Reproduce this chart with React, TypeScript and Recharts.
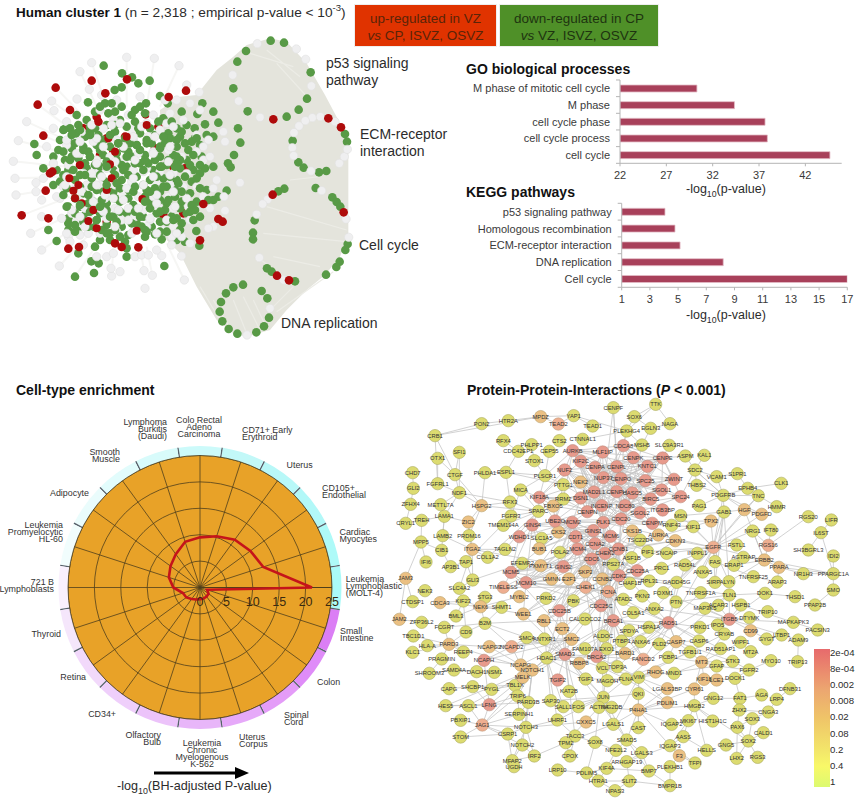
import React from "react";
import {
  AreaChart, Area, LineChart, Line, ScatterChart, Scatter, XAxis, YAxis, BarChart, Bar,
  RadarChart, Radar, PolarGrid, PolarAngleAxis, PolarRadiusAxis, PieChart, Pie, Cell,
} from "recharts";

const FONT = "'Liberation Sans', Arial, sans-serif";

/* ---------- GO / KEGG bars ---------- */
const goTerms = ["M phase of mitotic cell cycle", "M phase", "cell cycle phase", "cell cycle process", "cell cycle"];
const goValues = [30.3, 34.35, 37.65, 37.9, 44.65];
const goTicks = [22, 27, 32, 37, 42];
const keggTerms = ["p53 signaling pathway", "Homologous recombination", "ECM-receptor interaction", "DNA replication", "Cell cycle"];
const keggValues = [4.07, 4.78, 5.14, 8.2, 17];
const keggTicks = [1, 3, 5, 7, 9, 11, 13, 15, 17];

/* ---------- Cell-type radar (counter-clockwise from the MOLT-4 spoke) ---------- */
const cellTypes = [
  "Leukemia Lymphoblastic (MOLT-4)", "Cardiac Myocytes", "CD105+ Endothelial", "Uterus", "CD71+ Early Erythroid",
  "Colo Rectal Adeno Carcinoma", "Lymphoma Burkitis (Daudi)", "Smooth Muscle", "Adipocyte", "Leukemia Promyelocytic HL-60",
  "721 B Lymphoblasts", "Thyroid", "Retina", "CD34+", "Olfactory Bulb",
  "Leukemia Chronic Myelogenous K-562", "Uterus Corpus", "Spinal Cord", "Colon", "Small Intestine",
];
const cellEnrichment = [21.2, 12.6, 11.8, 11.2, 10.2, 9.5, 9.1, 7.8, 6.9, 6.2, 5.05, 3.4, 3.2, 2.7, 2.4, 2.2, 2.2, 2.1, 2.0, 1.4];
const radiusTicks = [0, 5, 10, 15, 20, 25];
const bandColors = [
  "#aafaf8", "#aefaf8", "#b2f8f8", "#b8f8f8", "#c2f8f8", "#ccfafa", "#d8fbfb", "#e2fcfc", "#eafcfc", "#f1fdfd",
  "#f9f0fd", "#f5e6fb", "#f2d9fb", "#efcffb", "#ecc3fa", "#e8b6f9", "#e6a9f9", "#e49cf8", "#df8cf8", "#db7ef5",
];

/* label layout for the radar (lines, x, first-line y, anchor) */
const cellLabelLayout: [string[], number, number, string][] = [
  [["Leukemia", "Lymphoblastic", "(MOLT-4)"], 345.7, 202, "start"],
  [["Cardiac", "Myocytes"], 339.5, 155, "start"],
  [["CD105+", "Endothelial"], 322, 111, "start"],
  [["Uterus"], 286.5, 88, "start"],
  [["CD71+ Early", "Erythroid"], 242, 53, "start"],
  [["Colo Rectal", "Adeno", "Carcinoma"], 199, 43, "middle"],
  [["Lymphoma", "Burkitis", "(Daudi)"], 167, 45, "end"],
  [["Smooth", "Muscle"], 120, 75, "end"],
  [["Adipocyte"], 89, 116, "end"],
  [["Leukemia", "Promyelocytic", "HL-60"], 63, 148, "end"],
  [["721 B", "Lymphoblasts"], 54, 205, "end"],
  [["Thyroid"], 61, 257, "end"],
  [["Retina"], 86, 300, "end"],
  [["CD34+"], 116, 337, "end"],
  [["Olfactory", "Bulb"], 161, 358, "end"],
  [["Leukemia", "Chronic", "Myelogenous", "K-562"], 202, 366, "middle"],
  [["Uterus", "Corpus"], 239, 360, "start"],
  [["Spinal", "Cord"], 284, 338, "start"],
  [["Colon"], 317, 305, "start"],
  [["Small", "Intestine"], 340, 254, "start"],
];

/* ---------- Cluster network, in 3x picture units ---------- */
const fanX = [480, 540, 590, 650, 700, 740, 810, 860, 920, 975, 1020, 1045];
const fanTop = [330, 290, 285, 210, 170, 135, 115, 125, 190, 285, 370, 430];
const fanBottom = [700, 760, 860, 960, 1000, 1010, 990, 930, 870, 825, 770, 705];
const streaks: number[][] = [
  [870, 540, 960, 530], [800, 620, 1040, 690], [790, 700, 1040, 725], [880, 200, 750, 160], [900, 230, 800, 150],
  [930, 300, 830, 190], [880, 860, 820, 920], [1000, 815, 830, 935], [740, 1000, 700, 900], [800, 985, 760, 900],
  [660, 960, 600, 860], [820, 770, 960, 800], [770, 770, 850, 830], [700, 1000, 640, 900], [780, 990, 730, 890],
];
const rays: number[][] = [
  [380, 172, 380, 320], [463, 175, 440, 320], [537, 197, 480, 320], [275, 188, 320, 320], [240, 215, 300, 340],
  [155, 303, 260, 380], [80, 365, 220, 430], [55, 422, 200, 460], [40, 484, 200, 500], [45, 535, 200, 530],
  [48, 585, 200, 560], [65, 646, 210, 590], [92, 700, 220, 640], [125, 750, 240, 670], [178, 798, 270, 700],
  [225, 830, 300, 720], [335, 828, 340, 740], [432, 812, 420, 740], [457, 826, 440, 740], [553, 840, 500, 730],
  [167, 263, 270, 370], [113, 314, 230, 400], [130, 407, 230, 450],
];
const greenNodes: number[][] = [
  [812,122],[852,128],[738,153],[712,185],[932,217],[700,265],[921,296],[896,329],[860,350],[743,334],
  [1035,402],[1041,425],[878,422],[895,487],[911,503],[957,517],[979,513],
  [853,566],[835,574],[947,564],[997,592],[1010,606],[1021,620],[764,661],[759,698],[759,718],[1043,732],[1036,750],[1019,785],[1009,801],[978,824],[801,805],[815,815],[885,844],
  [729,854],[700,862],[678,880],[663,906],[659,935],[667,964],[686,987],[712,1001],[769,997],[792,979],[807,953],[802,895],[785,873],
  [607,310],[592,342],[640,335],[655,368],[615,373],[584,385],[714,385],[721,428],[702,465],[684,490],[692,502],[640,500],[620,405],[640,410],[585,415],
  [311,197],[366,220],[396,232],[449,242],[415,250],[365,262],[344,270],[264,307],[103,432],[110,465],[130,505],[145,690],[170,723],[235,760],[225,830],[282,819],[274,784],[296,790],[380,770],[493,798],[598,737],[589,693],
  [315,310],[285,335],[325,340],[365,320],[405,330],[438,310],[435,340],[480,288],[503,310],[545,335],[230,345],[235,375],[270,380],[320,375],[360,360],[405,365],[450,385],[490,355],[530,385],[560,375],
  [192,388],[215,415],[255,410],[295,405],[345,395],[375,415],[420,400],[465,405],[505,400],[540,410],[575,425],[180,420],[175,450],[215,445],[250,440],[290,435],[330,440],[370,445],[410,435],[455,430],[495,430],[530,440],[565,450],[600,435],
  [160,470],[195,480],[235,475],[270,470],[310,465],[350,480],[395,470],[435,465],[480,470],[520,465],[560,480],[605,470],[170,510],[205,510],[260,505],[300,500],[340,510],[380,500],[420,490],[460,510],[500,495],[540,505],[580,510],[615,505],
  [160,555],[180,545],[225,540],[275,535],[315,545],[365,540],[410,530],[450,540],[490,535],[530,540],[575,545],[600,520],[205,620],[250,580],[290,570],[340,575],[385,570],[440,570],[480,575],[525,570],[570,580],[620,570],[655,590],[680,572],
  [240,620],[280,605],[320,610],[360,605],[400,615],[450,605],[500,610],[545,605],[590,605],[205,655],[255,645],[300,640],[340,650],[380,640],[430,650],[470,640],[515,650],[560,640],[600,650],
  [205,690],[232,692],[280,680],[320,675],[365,680],[410,670],[455,680],[500,665],[545,670],[300,720],[330,700],[385,705],[435,710],[465,703],[485,718],[530,720],[555,725],[380,745],[285,740],
];
const whiteNodes: number[][] = [
  [772,131],[889,147],[917,178],[698,225],[934,258],[716,303],[780,352],
  [937,353],[961,350],[1005,365],[916,362],[897,378],[882,398],[877,443],[881,467],[933,513],[1018,490],[1033,470],[1042,448],
  [965,572],[803,598],[788,612],[770,643],[1038,657],[1046,712],[778,773],[851,840],[741,1005],[810,925],
  [380,172],[463,175],[537,197],[275,188],[240,215],[560,255],[598,277],[268,268],[231,297],[155,303],[162,332],[80,365],[55,422],[40,484],[45,535],[48,585],[108,548],[108,575],[125,650],[92,700],[125,750],[178,798],[335,828],[360,815],[432,812],[457,826],[553,840],[435,865],[333,805],[485,767],[545,768],[720,548],[675,632],[640,680],
  [300,330],[340,360],[385,345],[460,345],[510,340],[530,300],[570,310],[600,330],[200,365],[160,385],[245,395],[310,385],[395,390],[440,370],[500,370],[550,360],[230,420],[280,425],[350,420],[400,420],[445,410],[520,420],[590,405],[625,420],[670,395],[675,425],
  [200,435],[140,440],[160,490],[240,460],[290,480],[330,470],[375,475],[415,460],[460,455],[505,450],[545,470],[590,455],[610,440],[130,535],[205,495],[250,520],[285,520],[320,505],[360,515],[400,510],[440,505],[480,515],[520,520],[560,520],[610,480],[630,470],
  [180,595],[225,565],[260,555],[300,555],[345,555],[395,545],[430,515],[470,555],[510,555],[550,560],[590,560],[650,540],[640,565],[672,590],[125,600],[170,590],[235,600],[270,590],[315,595],[365,590],[415,590],[460,590],[505,590],[560,595],[610,590],
  [255,625],[300,625],[345,625],[385,625],[430,630],[475,620],[520,625],[565,620],[630,625],[230,665],[270,660],[320,655],[365,660],[405,650],[450,660],[490,690],[520,680],[570,660],[625,685],
  [205,710],[240,705],[265,700],[300,700],[350,695],[400,695],[440,680],[515,710],[210,725],[290,770],[320,770],[405,770],[425,765],[445,765],[515,735],[545,710],
  [190,560],[215,640],[250,735],[340,760],[470,750],[570,730],[495,300],[420,290],[350,300],[305,285],
];
const topGreenNodes: number[][] = [
  [345,335],[395,345],[420,320],[335,310],[300,320],[260,360],[285,385],[345,375],[380,380],[415,385],[475,365],[515,365],[545,395],[210,385],[228,400],
  [270,395],[310,420],[355,430],[390,430],[440,420],[480,445],[510,415],[555,430],[590,415],[225,430],[265,455],[300,450],[350,460],[385,455],[420,450],
  [465,480],[505,480],[540,480],[580,465],[190,455],[215,470],[255,490],[285,495],[320,485],[365,495],[405,490],[445,490],[485,500],[530,490],[570,495],[600,495],
  [190,525],[240,525],[300,525],[345,525],[385,525],[430,555],[470,530],[510,530],[555,530],[590,535],[200,565],[240,560],[275,560],[310,575],[360,565],[405,560],[465,565],[500,560],
  [545,575],[600,565],[225,595],[265,610],[305,600],[345,595],[385,595],[435,590],[480,600],[525,590],[575,615],[225,640],[270,635],[320,630],[360,635],[405,635],[450,625],[495,630],[540,625],[585,630],
  [250,665],[290,660],[350,665],[395,670],[425,680],[480,665],[530,655],[580,660],[225,675],[265,680],[305,690],[345,690],[375,725],[330,720],[480,695],[540,690],[205,670],[440,695],[570,635],[625,600],[640,600],
];
const coreWhite: number[][] = [
  [60,65],[95,15],[130,80],[155,15],[190,80],[245,20],[285,50],[330,80],[50,100],[110,130],[165,125],[225,120],[280,100],[325,125],[20,170],[95,160],[125,170],[220,175],[280,170],[330,165],
  [15,195],[65,215],[110,195],[160,235],[200,205],[250,195],[290,225],[340,215],[35,270],[100,245],[135,225],[190,240],[235,265],[290,250],[345,260],[5,295],[60,290],[130,275],[175,270],[205,300],
  [270,295],[320,300],[20,340],[75,320],[165,320],[215,340],[290,340],[350,340],[180,10],[220,50],[300,30],[340,20],[110,55],[20,60],
];
const coreGreen: number[][] = [
  [35,45],[90,45],[60,30],[10,30],[175,70],[230,75],[260,70],[310,50],[350,60],[30,120],[70,90],[90,110],[150,45],[200,110],[255,120],[300,80],[350,110],[40,150],[75,165],[140,140],
  [190,150],[250,150],[300,140],[345,140],[170,190],[140,195],[85,225],[20,260],[220,215],[270,215],[310,200],[355,190],[120,260],[110,300],[150,290],[60,255],[240,290],[300,275],[340,300],[45,335],
  [140,340],[180,350],[255,330],[320,335],[10,225],[255,245],[325,240],
];
const coreRed: number[][] = [
  [115,5],[260,15],[200,50],[145,55],[165,95],[60,135],[150,133],[28,175],[55,195],[155,175],[40,212],[45,235],[247,237],[85,303],[110,325],[230,332],[140,210],[100,270],[65,250],
];
const redNodes: number[][] = [
  [290,350],[295,365],[375,410],[250,385],[320,415],[475,380],[437,343],[440,375],[340,455],[300,465],[465,445],[520,500],[555,505],[330,495],[240,495],[320,570],[280,630],[320,665],[490,645],[550,640],
];
const topRedNodes: number[][] = [
  [820,358],[985,355],[1023,382],[818,584],[1031,637],[831,827],[867,841],
  [167,263],[113,314],[210,330],[130,407],[275,242],[381,238],[316,280],[558,272],[506,291],[65,646],[145,655],[205,746],[237,741],[415,742],[365,741],[345,730],[600,721],[655,657],[668,665],[610,612],[137,572],[150,520],[157,515],
];

/* ---------- Protein interaction network, in 3x picture units ---------- */
const ppiRed: [string, number, number][] = [
  ["CDCA8",670,197],["AURKB",518,212],["MLF1IP",608,216],["CENPK",700,233],["CENPE",788,234],["KIF2C",542,244],["NUF2",494,270],["CENPA",585,262],["CENPL",650,260],["KNTC1",742,259],
  ["NUP37",610,293],["CENPO",663,296],["SPC25",736,302],["ZWINT",822,298],["MAD2L1",582,336],["CENPH",650,335],["CASC5",697,339],["SGOL1",785,330],["SPC24",842,350],["KIF18A",418,352],
  ["DSN1",542,354],["BIRC5",752,357],["INCENP",605,377],["NDC80",675,377],["SGOL2",720,398],["ITGB3BP",788,390],["CENPN",562,395],["GINS4",397,435],["UBE2C",465,423],["MCM2",517,427],
  ["PLK1",610,427],["CDC20",663,417],["CENPM",757,430],["GINS1",580,452],["WDHD1",358,470],["CDT1",527,470],["MCM6",632,469],["CCNA2",585,491],["MCM4",533,507],["CHEK2",615,520],
  ["CCNB1",655,507],["CDC6",575,537],["GINS2",490,560],["MCM5",333,577],["CDC25A",712,572],["CDK2",657,587],["MCM10",378,608],["CDC25C",603,677],["CDC25B",478,692],["BRCA1",640,722],
  ["RAD51",805,728],["ITGB5",988,718],["SMAD3",495,823],["BRCA2",590,830],["NCAPH",252,841],["TGIF2",473,900],["LFNG",268,974],
];
const ppiSalmon: [string, number, number][] = [
  ["TEAD2",475,132],["NCAPD2",335,800],["JAG1",247,1035],["EGFR",940,502],["RGS16",1105,496],["PCNA",625,635],["TIMELESS",310,622],["FANCD2",730,838],["CHEK1",557,622],
];
const ppiTan: [string, number, number][] = [
  ["MPDZ",422,110],["NEK2",542,306],["HSPG2",245,377],["FBXO5",460,378],["HGF",1033,389],["PDGFD",1085,403],["ZIC2",205,426],["TPX2",933,423],["CKS2",475,456],["CKS1B",697,453],
  ["AURKA",775,465],["CDKN3",826,482],["BUB1",418,506],["ITGA2",217,508],["ERBB2",1093,540],["PKMYT1",422,557],["PPARA",1137,562],["SKP2",556,575],["E2F1",507,597],["CCNB2",607,597],
  ["JAM3",17,595],["JAM2",-2,718],["GMNN",455,597],["CDCA3",120,668],["MYBL2",358,650],["NEK6",242,680],["WEE1",370,702],["RBL1",432,722],["ECT2",487,746],["CD99",1052,752],["SMC2",515,778],
  ["CASP7",828,785],["PARD3",147,793],["NCAPG2",268,800],["BARD1",675,820],["MT3",905,846],["RBBP8",538,850],["NCAPG",362,855],["NOTCH1",397,870],["RHOG",767,876],["MELK",368,892],
  ["KIF18",912,898],["LCE1",950,900],["LGALS3BP",802,926],["CYR61",883,927],["P4HA1",715,990],["PDLIM1",802,968],["CXXC5",558,1026],["F3",838,1127],
];
const ppiYellow: [string, number, number][] = [
  ["CENPF",640,83],["TTK",767,73],["SOX6",703,110],["NAGA",810,131],["EGLN3",752,145],["PLEKHG4",680,153],["YAP1",521,107],["TEAD1",578,138],["HTR2A",325,122],["PON2",245,131],
  ["CRB1",105,167],["RFX4",310,182],["CTS2",478,182],["CTNNAL1",548,178],["MSH5",726,195],["SLC9A3R1",808,196],["PHLPP1",395,194],["CDC42EP1",355,214],["CEP55",448,214],["SFI1",178,217],
  ["ASPM",856,228],["KAL1",913,226],["OTX1",113,235],["STOX1",403,242],["SDC2",885,270],["CHD7",38,278],["GLI2",40,325],["CTGF",165,284],["PHLDA1",255,278],["ESPL1",318,277],
  ["PLSCR1",435,287],["VCAM1",950,290],["S1PR1",1012,281],["FGFRL1",113,311],["PTTG1",490,314],["THBS2",890,316],["CLK1",1144,310],["EPHB4",1043,325],["NDF1",178,338],["MICA",362,330],
  ["PDGFRB",970,346],["TNC",1075,347],["RRM2",490,357],["HMMR",1130,380],["ZFHX4",32,373],["METTL7A",122,374],["RFX3",330,366],["PAG1",898,377],["GAB1",972,396],["SPARC",415,394],
  ["MSN",842,407],["LAMA1",133,409],["RGS20",1225,410],["LIFR",1294,420],["CRYL1",17,430],["TREH",65,421],["FGFR3",333,408],["TMEM194A",310,436],["RNF43",815,436],["KIF11",880,440],
  ["NRG1",1058,453],["IFT80",1113,450],["IL6ST",1263,458],["MPP5",63,486],["LAMB2",128,467],["PRDM16",207,467],["SLC1A5",425,475],["TSC22D4",720,480],["FSTL1",1010,495],["POLA2",480,517],
  ["TAGLN2",315,508],["CIB1",125,511],["ASF1B",695,533],["PIF1",743,515],["SNCAIP",800,520],["INPPL1",892,520],["SH3BGRL3",1225,510],["IDI2",1300,528],["COL1A2",263,532],["AGTRAP",1030,532],
  ["FAS",945,545],["IFI6",78,546],["AP3B1",152,560],["TAP1",198,545],["EFEMP2",367,550],["RPS27A",640,553],["PRC1",785,565],["RAD54L",855,555],["ERAP1",1002,556],["ANXA5",908,576],
  ["CHAF1B",690,610],["RPL31",748,603],["GADD45G",830,607],["SIRPA",945,607],["LYN",987,605],["TNFRSF25",1060,590],["ARAP3",1132,606],["NR1H3",1210,581],["PPARGC1A",1300,581],["SMO",1300,630],
  ["GLI3",218,600],["SLC4A2",178,625],["NEK3",75,632],["CTDSP1",38,665],["KIF23",190,663],["STG3",255,652],["PRKD2",438,655],["PBK",520,662],["ATAD2",670,658],["PKN3",727,648],
  ["FOXM1",790,638],["TNFRSF1A",902,638],["TLN1",988,645],["DOK1",1095,640],["THSD1",1185,650],["PPAP2B",1245,675],["SHMT1",305,682],["BML3",168,708],["PTN",828,666],["COL5A1",700,698],
  ["ANXA2",763,686],["MAP3K5",915,685],["ACAR3",955,676],["HSPB1",1023,675],["TRIP10",1103,695],["ZFP36L2",65,727],["FCGRT",133,742],["B2M",255,730],["CALCOCO2",555,717],
  ["DTYMK",1048,713],["MAPKAPK3",1180,727],["PACSIN3",1253,750],["IPO5",953,735],["PRKD1",900,742],["HSPA1A",747,742],["SPDYA",687,752],["CD9",198,756],["TBC1D1",40,768],["SMC4",380,773],
  ["CRYAB",973,762],["LTBP1",1145,765],["ADAM9",1195,780],["ANTXR1",433,777],["ALDOC",610,768],["PTBP1",665,783],["ANXA6",722,785],["PLD2",778,792],["CASP6",897,783],["WIPF1",1022,787],
  ["GYGT",1100,777],["HLA-A",82,797],["FAM107A",555,806],["EXO1",620,806],["TGFB1I1",870,816],["RAD51AP1",962,806],["MT2A",1052,815],["KLC1",38,817],["REEP4",190,816],["PCBP1",805,832],
  ["STK3",998,844],["MYO10",1113,842],["TRIP13",1193,845],["HDAC1",440,834],["PRAGMIN",125,837],["VCL",607,863],["TOP3A",652,860],["GFAP",950,858],["FGFR2",1047,870],["SAMD4A",162,870],
  ["DACH1",230,875],["NSM1",283,877],["MND1",822,880],["SHROOM3",88,880],["VIM",716,892],["FLNA",678,897],["MAGOH",622,902],["DOCK1",1005,895],["TGIF1",557,897],["CAPG",147,926],
  ["SHCBP1",218,920],["PYGL",275,928],["TBL1X",345,916],["KAT2B",507,934],["AGA",1085,945],["GNG12",940,955],["FAT1",1020,955],["LRP4",1130,958],["DFNB31",1170,926],["TRIP6",353,948],
  ["QKI",715,941],["HES5",137,977],["ASCL1",205,977],["PARD3B",385,967],["SAP30",452,962],["JUN",610,952],["SALL1",490,980],["FOS",535,980],["ACTN4",597,982],["ING2DB",635,982],
  ["HMGB2",883,977],["ZHX2",1018,990],["CNGA3",1105,996],["UHRF1",472,1020],["SERPINH1",357,1003],["PBXIP1",182,1021],["NOTCH3",378,1042],["LGALS1",640,1033],["MKI67",865,1022],["HIST1H1C",938,1023],
  ["IQGAP2",815,1033],["CAST",715,1043],["PAX6",1012,1042],["SOX3",1057,1016],["CSRP1",323,1062],["STOM",182,1071],["AASS",850,1070],["CALD1",1090,1058],["TACC3",525,1068],["SMAD5",680,1080],
  ["SOX2",1045,1083],["GNG5",978,1095],["TPM2",497,1088],["SOX8",585,1087],["NOTCH2",367,1095],["IQGAP3",810,1097],["HELLS",920,1111],["NFE2L2",648,1111],["LGALS3",725,1118],["IRF2",403,1128],
  ["CPOX",510,1128],["RGS3",1073,1132],["LHX2",1010,1135],["TFPI",885,1149],["MFAP2",337,1142],["UGDH",342,1160],["ARHGAP19",680,1145],["LRP10",473,1170],["KIF4A",620,1165],["PLEKHB1",810,1160],
  ["BMP7",747,1173],["PDLIM5",560,1179],["HTRA1",595,1203],["SLIT2",688,1203],["BMPR1B",810,1217],["NPAS3",645,1232],
];
const ppiEdges: [string, string][] = [
  ["PLK1","CENPA CENPE CENPL CENPH BIRC5 INCENP NDC80 CDC20 AURKB AURKA CCNB1 CCNA2 CDK2 CHEK2 CDC25C CDC25B BUB1 KIF2C NEK2 TPX2 UBE2C MCM2 SGOL1 SGOL2 BRCA1 KIF11"],
  ["CDC20","CENPE CENPF BIRC5 MAD2L1 CASC5 NDC80 AURKB SPC25 SPC24 UBE2C CCNB1 CCNA2 CDK2 CKS1B CKS2 ZWINT PTTG1 KIF18A BUB1 CDCA8"],
  ["CENPA","CENPL CENPH CENPK CENPE CENPN CENPM CENPO KNTC1 NUF2 NUP37 MAD2L1 INCENP NDC80 DSN1 SPC25 ZWINT AURKB MLF1IP CASC5"],
  ["CENPL","CENPK CENPE CENPO CENPH CENPN CENPM KNTC1 NUP37 MLF1IP NDC80 SPC24 ITGB3BP DSN1 CENPF"],
  ["CENPH","CENPK CENPE CENPO CENPN CENPM KNTC1 NUP37 MLF1IP NUF2 SPC25 ZWINT ITGB3BP DSN1 CASC5"],
  ["CENPN","CENPK CENPM CENPO MLF1IP NUP37 KIF2C NUF2 DSN1 RRM2 FBXO5 MCM2 UBE2C"],
  ["NUP37","KNTC1 NUF2 SPC25 MLF1IP DSN1 INCENP SPC24 ZWINT CASC5 NEK2 SGOL1"],
  ["INCENP","KIF2C NUF2 SPC25 DSN1 CENPM SGOL2 CENPF SGOL1 RRM2 NEK2"],
  ["NDC80","NUF2 SPC25 SPC24 KNTC1 ZWINT CASC5 DSN1 MAD2L1 CENPE CENPK SGOL1 CENPH AURKB KIF18A ITGB3BP"],
  ["AURKB","INCENP BIRC5 CDCA8 SGOL1 SGOL2 KIF2C CENPE KNTC1 MAD2L1 NUF2 MLF1IP PLSCR1 RRM2"],
  ["CDCA8","BIRC5 INCENP SGOL1 KIF2C CENPE NUP37 KNTC1 ZWINT MSH5 PLEKHG4"],
  ["CENPE","KNTC1 ZWINT CASC5 MAD2L1 SGOL1 SPC24 ASPM KIF18A DSN1 SLC9A3R1"],
  ["MAD2L1","ZWINT KNTC1 BIRC5 CASC5 NUF2 PTTG1 RRM2 DSN1 CCNB1 UBE2C"],
  ["KIF18A","KIF2C NUF2 DSN1 SPARC RRM2 UBE2C FBXO5 MICA PLSCR1"],
  ["UBE2C","FBXO5 GINS4 CKS2 CCNA2 CCNB1 CDK2 MCM2 RRM2 PTTG1"],
  ["CCNB1","CDK2 CCNA2 CKS1B CKS2 AURKA CHEK2 CDC25C CDC25A CDC25B CDKN3 CDC6 CCNB2 PCNA SKP2 PKMYT1 WEE1 RPS27A BRCA1 TPX2"],
  ["CCNA2","CDK2 CDC6 CDT1 MCM2 MCM4 MCM6 CHEK1 CHEK2 E2F1 SKP2 RBL1 CDC25A CCNB2 GMNN PCNA BRCA1 CKS2"],
  ["CDK2","CDC6 CDC25A CDC25C CDC25B CCNB2 E2F1 SKP2 PCNA RBL1 BRCA1 BRCA2 CHEK1 MCM4 CHAF1B ASF1B TSC22D4 PRC1 RPL31 GADD45G CKS1B CDKN3"],
  ["MCM2","MCM4 MCM6 MCM5 MCM10 CDT1 CDC6 GINS1 GINS2 GINS4 WDHD1 POLA2 GMNN PCNA DSN1 BUB1"],
  ["MCM4","MCM6 MCM5 MCM10 CDT1 CDC6 GINS1 GINS2 POLA2 CHEK1 PCNA CHEK2 TIMELESS E2F1"],
  ["MCM6","CDT1 CDC6 MCM5 MCM10 GINS1 CHEK2 PIF1 ASF1B"],
  ["MCM5","MCM10 CDC6 GINS4 GINS2 WDHD1 PKMYT1 GMNN TIMELESS SMC2"],
  ["MCM10","CDC6 CDT1 GMNN GINS2 POLA2 CHEK1 PCNA E2F1 WEE1 CDC25C"],
  ["GINS1","GINS2 GINS4 CDT1 CDC6 POLA2 WDHD1 CCNA2"],
  ["GINS4","WDHD1 BUB1 SLC1A5 SPARC MCM10"],
  ["CDC6","CHEK1 GMNN E2F1 SKP2 PCNA RBL1 CDC25A CDC25C WEE1 CCNB2 BRCA1"],
  ["CHEK2","CDC25A CDC25C CDC25B CDKN3 AURKA TSC22D4 RPS27A RAD51 BRCA2 CKS1B"],
  ["CHEK1","CDC25A CDC25C CDC25B TIMELESS BRCA1 RAD51 CHEK2 PCNA E2F1 WEE1 CDC6 BRCA2"],
  ["PCNA","CDC6 CDC25C RBL1 RAD51 CHAF1B ATAD2 ASF1B BRCA1 BRCA2 FANCD2 MSH5 EXO1 HDAC1 MCM10 ECT2 SMC2"],
  ["BRCA1","BRCA2 RAD51 BARD1 FANCD2 SMAD3 RBBP8 EXO1 HDAC1 E2F1 CHEK2 TOP3A JUN RBL1 CDC25C ANXA2 HSPA1A PTBP1"],
  ["BRCA2","RAD51 FANCD2 SMAD3 BARD1 RBBP8 TOP3A EXO1 HDAC1"],
  ["RAD51","FANCD2 BARD1 RAD54L RAD51AP1 GADD45G TOP3A HSPA1A CASP7 PRKD1 TNFRSF1A EXO1 CASP6"],
  ["SMAD3","HDAC1 JUN FOS TGIF1 TGIF2 NOTCH1 E2F1 RBL1 SMC4 ANTXR1 KAT2B WEE1 SMC2 TBL1X VCL ALDOC TACC3 SMAD5 CDC25B"],
  ["HDAC1","TBL1X NOTCH1 RBBP8 TGIF1 SMC4 E2F1 MELK UHRF1 SALL1 SAP30 ECT2 RBL1"],
  ["NOTCH1","NOTCH2 NOTCH3 JAG1 LFNG TRIP6 TBL1X ASCL1 MELK HES5 PARD3 PARD3B"],
  ["SMC2","SMC4 NCAPH NCAPD2 NCAPG NCAPG2 CDC25B"],
  ["NCAPD2","NCAPH NCAPG NCAPG2 SMC4 ANTXR1"],
  ["NCAPG","NCAPH NCAPG2 SMC4 MELK"],
  ["EGFR","ERBB2 FAS NRG1 FSTL1 INPPL1 SNCAIP HGF PDGFD PDGFRB CDKN3 AURKA RAD54L SIRPA ANXA5 ANXA2 LYN PLD2 PIF1 TPX2 MSN GAB1 TNC KIF11 PRC1 FOXM1 GADD45G"],
  ["ERBB2","NRG1 PPARA RGS16 AGTRAP LYN HGF PPARGC1A ERAP1"],
  ["PDGFRB","PDGFD PAG1 THBS2 VCAM1 SDC2 GAB1 TNC EPHB4 HGF"],
  ["GAB1","HGF SIRPA LYN FAS MSN"],
  ["SDC2","THBS2 KAL1 ASPM VCAM1 PDGFRB SPC24"],
  ["ITGB5","MAP3K5 HSPB1 PRKD1 ACAR3 LTBP1 TLN1 DOK1 CD99 DTYMK MAPKAPK3 IPO5 FOXM1 ANXA2"],
  ["TLN1","VCL FLNA DOK1 ITGA2 PTN"],
  ["VIM","FLNA RHOG VCL LGALS1 LGALS3BP CAST MAGOH TOP3A PDLIM1 GFAP P4HA1 CRYAB"],
  ["FLNA","RHOG VCL TGIF1 JUN PDLIM1 TGFB1I1 MAGOH"],
  ["CASP7","CASP6 PCBP1 PLD2 RAD51 TGFB1I1 HSPA1A STK3"],
  ["MT3","MND1 GFAP PCBP1 TGFB1I1 KIF18 CYR61 CRYAB STK3 WIPF1"],
  ["JUN","FOS ACTN4 ING2DB SALL1 QKI SMAD5 LGALS1 SAP30 TGIF1 UHRF1 VCL"],
  ["P4HA1","PDLIM1 CAST QKI ACTN4 LGALS3BP LGALS1 SMAD5 HMGB2 IQGAP2 CYR61 IQGAP3"],
  ["HMGB2","MKI67 HIST1H1C CYR61 GNG12 HELLS"],
  ["FAT1","GNG12 AGA DOCK1 ZHX2"],["LRP4","DFNB31 CNGA3"],["CNGA3","SOX3 ZHX2"],["SOX2","CALD1 RGS3 SOX3 PAX6 LHX2 GNG5 HMGB2"],["PAX6","ZHX2 SOX3 LHX2"],
  ["IQGAP3","F3 AASS MKI67 ARHGAP19 TFPI"],["AASS","HELLS MKI67"],["F3","TFPI PLEKHB1"],["BMPR1B","BMP7 SLIT2 PLEKHB1"],["BMP7","KIF4A LGALS3 SMAD5"],["LGALS3","ARHGAP19 SMAD5"],["KIF4A","PDLIM5 NFE2L2 HTRA1"],
  ["HTRA1","NPAS3 PDLIM5 SLIT2"],["PDLIM5","LRP10 SOX8"],["SLIT2","ARHGAP19 NPAS3"],["NFE2L2","SMAD5 SOX8"],["SOX8","TACC3 ACTN4"],["TACC3","UHRF1 TPM2 CPOX"],["TPM2","CPOX IRF2 ACTN4 LGALS1"],["IRF2","NOTCH2 MFAP2 NOTCH3"],["MFAP2","UGDH NOTCH2 NOTCH3 CSRP1"],
  ["JAG1","NOTCH3 NOTCH2 CSRP1 LFNG STOM PBXIP1 SERPINH1 ASCL1 TRIP6"],["CSRP1","NOTCH3 STOM"],["LFNG","ASCL1 HES5 TRIP6 PARD3B NCAPH SHCBP1"],["NOTCH3","UHRF1 SERPINH1 CXXC5"],["SERPINH1","TRIP6 PARD3B"],["HES5","ASCL1"],
  ["PARD3","HLA-A FCGRT REEP4 PRAGMIN CD9 KLC1 NCAPG2 TBC1D1"],["NEK6","WEE1 SHMT1 B2M BML3 KIF23 STG3 CDCA3 MYBL2"],["KIF23","CDCA3 CD9 BML3"],["B2M","FCGRT CD9 SHMT1 SMC4 RBL1 NCAPD2"],["SHROOM3","PRAGMIN SAMD4A"],["SAMD4A","DACH1 NSM1"],["CAPG","SHCBP1"],["SHCBP1","PYGL TBL1X"],["TBL1X","TRIP6 MELK PYGL"],
  ["CRB1","MPDZ PON2 FGFRL1 CTGF"],["HTR2A","MPDZ PON2"],["MPDZ","YAP1 TEAD2"],["YAP1","TEAD1 TEAD2 PLEKHG4"],["TTK","SOX6 NAGA PLEKHG4"],["SOX6","PLEKHG4 EGLN3"],["EGLN3","NAGA MSH5"],["PLEKHG4","CDCA8 CTNNAL1 MSH5"],
  ["OTX1","FGFRL1 CTGF"],["SFI1","NDF1 CTGF"],["CTGF","NDF1 HSPG2"],["NDF1","LAMA1 METTL7A HSPG2 FGFRL1 RFX3"],["GLI2","CHD7 ZFHX4"],["LAMA1","LAMB2 TREH CIB1 ZIC2"],["HSPG2","PHLDA1 RFX3 PRDM16 SPARC ZIC2"],["PHLDA1","ESPL1"],["ESPL1","PLSCR1 PTTG1 CDC42EP1 RFX3"],["RFX4","CDC42EP1"],["STOX1","PLSCR1 PHLPP1"],["PLSCR1","CEP55 MICA PTTG1"],["MICA","FGFR3 SPARC"],["SPARC","RFX3 FGFR3 TMEM194A COL1A2 TAGLN2"],["ITGA2","COL1A2 PRDM16 TAP1 TAGLN2 LAMB2 SLC4A2 GLI3 ZIC2"],["PRDM16","ZIC2"],["MPP5","TREH IFI6 CIB1 JAM3"],["CRYL1","TREH ZFHX4"],["JAM3","JAM2 CTDSP1"],["JAM2","ZFP36L2"],["CIB1","AP3B1"],["TAP1","AP3B1 GLI3 FGFR3"],["GLI3","SLC4A2 EFEMP2"],
  ["HMMR","TNC"],["CLK1","EPHB4"],["EPHB4","S1PR1"],["S1PR1","VCAM1"],["HGF","TNC PDGFD"],["RGS16","NRG1 IFT80 RGS20"],["LIFR","IL6ST"],["IL6ST","SH3BGRL3 PPARGC1A"],["PPARA","NR1H3 PPARGC1A ARAP3"],["PPARGC1A","NR1H3 SMO"],["TNFRSF25","ARAP3 FAS"],["IDI2","PPARGC1A"],["THSD1","DOK1"],["PPAP2B","SMO"],["MAPKAPK3","HSPB1 PACSIN3"],["MYO10","FGFR2"],["FGFR2","GFAP STK3"],["DOCK1","FGFR2 LCE1"],["LTBP1","ADAM9 GYGT"],["CD99","GYGT"],["WIPF1","MT2A"],["TRIP13","ADAM9"],
];

const EDGE_POS = new Map<string, [number, number]>(
  [...ppiRed, ...ppiSalmon, ...ppiTan, ...ppiYellow].map((n) => [n[0], [n[1], n[2]]] as [string, [number, number]]),
);
const ppiEdgeRows = (() => {
  const rows: { x: number; y: number | null }[] = [];
  ppiEdges.forEach(([a, list]) => {
    list.split(" ").forEach((b) => {
      const p = EDGE_POS.get(a), q = EDGE_POS.get(b);
      if (!p || !q) return;
      rows.push({ x: p[0], y: p[1] }, { x: q[0], y: q[1] }, { x: q[0], y: null });
    });
  });
  return rows;
})();
const segmentRows = (segs: number[][]) => {
  const rows: { x: number; y: number | null }[] = [];
  segs.forEach(([a, b, c, d]) => rows.push({ x: a, y: b }, { x: c, y: d }, { x: c, y: null }));
  return rows;
};
const toPoints = (list: number[][]) => list.map(([x, y]) => ({ x, y }));
const corePoints = (list: number[][]) => list.map(([x, y]) => ({ x: x + 180, y: y + 360 }));
const toNodes = (list: [string, number, number][]) => list.map(([name, x, y]) => ({ name, x, y }));

const abs = (left: number, top: number, w?: number, h?: number): React.CSSProperties => ({
  position: "absolute", left, top, width: w, height: h,
});

const nodeShape = (fill: string, stroke: string, r: number) => (p: any) => (
  <circle cx={p.cx} cy={p.cy} r={r} fill={fill} stroke={stroke} strokeWidth={0.6} />
);
const labelShape = (p: any) => (
  <text x={p.cx} y={p.cy + 2} textAnchor="middle" fontSize={5.8} fill="#333" fontFamily={FONT}>{p.payload.name}</text>
);

function Sub({ children }: { children: React.ReactNode }) {
  return <sub style={{ fontSize: "70%", lineHeight: 0 }}>{children}</sub>;
}

const NW = 430, NH = 350;
function ClusterNetwork() {
  const fanRows = fanX.map((x, i) => ({ x, band: [fanTop[i], fanBottom[i]] }));
  const m = { top: 0, right: 0, bottom: 0, left: 0 };
  return (
    <div style={abs(0, 0, NW, NH)}>
      <div style={abs(0, 0)}>
        <AreaChart width={NW} height={NH} data={fanRows} margin={m}>
          <XAxis type="number" dataKey="x" domain={[0, 1290]} hide />
          <YAxis type="number" domain={[0, 1050]} reversed hide />
          <Area dataKey="band" type="linear" fill="#e4e4dc" fillOpacity={1} stroke="none" isAnimationActive={false} />
        </AreaChart>
      </div>
      <div style={abs(0, 0)}>
        <LineChart width={NW} height={NH} data={segmentRows(streaks)} margin={m}>
          <XAxis type="number" dataKey="x" domain={[0, 1290]} hide />
          <YAxis type="number" domain={[0, 1050]} reversed hide />
          <Line dataKey="y" dot={false} stroke="#ecece6" strokeWidth={1.2} connectNulls={false} isAnimationActive={false} />
        </LineChart>
      </div>
      <div style={abs(0, 0)}>
        <LineChart width={NW} height={NH} data={segmentRows(rays)} margin={m}>
          <XAxis type="number" dataKey="x" domain={[0, 1290]} hide />
          <YAxis type="number" domain={[0, 1050]} reversed hide />
          <Line dataKey="y" dot={false} stroke="#f6f6f4" strokeWidth={2} connectNulls={false} isAnimationActive={false} />
        </LineChart>
      </div>
      <div style={abs(0, 0)}>
        <ScatterChart width={NW} height={NH} margin={m}>
          <XAxis type="number" dataKey="x" domain={[0, 1290]} hide />
          <YAxis type="number" dataKey="y" domain={[0, 1050]} reversed hide />
          <Scatter data={toPoints(redNodes)} shape={nodeShape("#ae0b0b", "none", 4.3)} isAnimationActive={false} />
          <Scatter data={toPoints(greenNodes)} shape={nodeShape("#589a46", "none", 4.3)} isAnimationActive={false} />
          <Scatter data={toPoints(whiteNodes)} shape={nodeShape("#efeff0", "#e0e0e0", 4.2)} isAnimationActive={false} />
          <Scatter data={toPoints(topGreenNodes)} shape={nodeShape("#589a46", "none", 4.3)} isAnimationActive={false} />
          <Scatter data={corePoints(coreWhite)} shape={nodeShape("#efeff0", "#e0e0e0", 4.2)} isAnimationActive={false} />
          <Scatter data={corePoints(coreRed)} shape={nodeShape("#ae0b0b", "none", 4.0)} isAnimationActive={false} />
          <Scatter data={corePoints(coreGreen)} shape={nodeShape("#589a46", "none", 4.3)} isAnimationActive={false} />
          <Scatter data={toPoints(topRedNodes)} shape={nodeShape("#ae0b0b", "none", 4.3)} isAnimationActive={false} />
        </ScatterChart>
      </div>
    </div>
  );
}

const PW = 476, PH = 420;
function PpiNetwork() {
  const m = { top: 0, right: 0, bottom: 0, left: 0 };
  const all = toNodes([...ppiRed, ...ppiSalmon, ...ppiTan, ...ppiYellow]);
  return (
    <div style={abs(380, 380, PW, PH)}>
      <div style={abs(0, 0)}>
        <LineChart width={PW} height={PH} data={ppiEdgeRows} margin={m}>
          <XAxis type="number" dataKey="x" domain={[-60, 1368]} hide />
          <YAxis type="number" domain={[0, 1260]} reversed hide />
          <Line dataKey="y" dot={false} stroke="#c6c6c6" strokeWidth={0.8} connectNulls={false} isAnimationActive={false} />
        </LineChart>
      </div>
      <div style={abs(0, 0)}>
        <ScatterChart width={PW} height={PH} margin={m}>
          <XAxis type="number" dataKey="x" domain={[-60, 1368]} hide />
          <YAxis type="number" dataKey="y" domain={[0, 1260]} reversed hide />
          <Scatter data={toNodes(ppiYellow)} shape={nodeShape("#dcdb70", "#a9a95c", 6.2)} isAnimationActive={false} />
          <Scatter data={toNodes(ppiTan)} shape={nodeShape("#ebc083", "#b9a06a", 6.2)} isAnimationActive={false} />
          <Scatter data={toNodes(ppiSalmon)} shape={nodeShape("#eeae90", "#c09a7a", 6.2)} isAnimationActive={false} />
          <Scatter data={toNodes(ppiRed)} shape={nodeShape("#e79a8c", "#c08a7a", 6.2)} isAnimationActive={false} />
          <Scatter data={all} shape={labelShape} isAnimationActive={false} />
        </ScatterChart>
      </div>
    </div>
  );
}

function catTick(band: number, count: number) {
  return (p: any) => (
    <g>
      <text x={p.x - 10} y={p.y + 4} textAnchor="end" fontSize={11} fill="#3a3a3a" fontFamily={FONT}>{p.payload.value}</text>
      <line x1={p.x - 4} x2={p.x} y1={p.y - band / 2} y2={p.y - band / 2} stroke="#b5b5b5" />
      {p.index === count - 1 && <line x1={p.x - 4} x2={p.x} y1={p.y + band / 2} y2={p.y + band / 2} stroke="#b5b5b5" />}
    </g>
  );
}

function TermBars(props: {
  left: number; top: number; h: number; terms: string[]; values: number[]; ticks: number[];
  domain: [number, number]; axisW: number; right: number; band: number; mt: number; mb: number;
}) {
  const rows = props.terms.map((term, i) => ({ term, value: props.values[i] }));
  return (
    <div style={abs(props.left, props.top)}>
      <BarChart width={426} height={props.h} data={rows} layout="vertical" margin={{ top: props.mt, right: props.right, bottom: props.mb, left: 0 }}>
        <XAxis type="number" domain={props.domain} ticks={props.ticks} height={22} allowDataOverflow tickMargin={5}
          tick={{ fontSize: 11, fill: "#3a3a3a", fontFamily: FONT }} stroke="#b5b5b5" tickSize={3} interval={0} />
        <YAxis type="category" dataKey="term" width={props.axisW} tick={catTick(props.band, 5)} tickLine={false} tickSize={0} tickMargin={0} stroke="#b5b5b5" interval={0} />
        <Bar dataKey="value" fill="#a8405a" stroke="#e3bcc6" strokeWidth={0.8} barSize={7} isAnimationActive={false} />
      </BarChart>
    </div>
  );
}

const CX = 200, CY = 207.5, R = 132;
function CellRadar() {
  const rows = cellTypes.map((name, i) => ({ name, value: cellEnrichment[i] }));
  const bandRows: { v: number; fill: string }[] = [];
  bandColors.forEach((c) => {
    bandRows.push({ v: 17.4, fill: c });
    bandRows.push({ v: 0.6, fill: "#55606a" });
  });
  const angleTick = (p: any) => {
    const i = p.index as number;
    const [lines, x, y, anchor] = cellLabelLayout[i];
    return (
      <text textAnchor={anchor as any} fontSize={8.9} fill="#333" fontFamily={FONT}>
        {lines.map((l, k) => <tspan key={k} x={x} y={y + k * 7}>{l}</tspan>)}
      </text>
    );
  };
  const radiusTick = (p: any) => (
    <text x={p.x} y={p.y + 18} textAnchor="middle" fontSize={12.5} fill="#3a2a10" fontFamily={FONT}>{p.payload.value}</text>
  );
  return (
    <div style={abs(0, 380, 420, 420)}>
      <div style={abs(0, 0)}>
        <PieChart width={420} height={420} margin={{ top: 0, right: 0, bottom: 0, left: 0 }}>
          <Pie data={[{ v: 1 }]} dataKey="v" cx={CX} cy={CY} innerRadius={0} outerRadius={R} fill="#e8a228" stroke="#4a3a18" strokeWidth={0.8} isAnimationActive={false} />
          <Pie data={bandRows} dataKey="v" cx={CX} cy={CY} innerRadius={R} outerRadius={R + 9.5} startAngle={-9 + 0.3} endAngle={351 + 0.3} stroke="none" isAnimationActive={false}>
            {bandRows.map((r, i) => <Cell key={i} fill={r.fill} />)}
          </Pie>
        </PieChart>
      </div>
      <div style={abs(0, 0)}>
        <RadarChart width={420} height={420} data={rows} cx={CX} cy={CY} outerRadius={R} startAngle={-18} endAngle={342} margin={{ top: 0, right: 0, bottom: 0, left: 0 }}>
          <PolarGrid gridType="circle" stroke="#4f3f1c" strokeWidth={0.8} radialLines />
          <PolarAngleAxis dataKey="name" tick={angleTick} tickLine={false} axisLine={false} />
          <PolarRadiusAxis angle={0} domain={[0, 25]} ticks={radiusTicks} tick={radiusTick} tickCount={6} axisLine={false} tickLine={false} />
          <Radar dataKey="value" stroke="#c5141a" strokeWidth={2.6} fill="none" fillOpacity={0} dot={false} isAnimationActive={false} />
        </RadarChart>
      </div>
    </div>
  );
}

const colorTicks = ["2e-04", "8e-04", "0.002", "0.008", "0.02", "0.08", "0.2", "0.4", "1"];

export default function App() {
  const t: React.CSSProperties = { position: "absolute", fontFamily: FONT, color: "#2b2b2b", fontSize: 14, lineHeight: "17px", whiteSpace: "nowrap" };
  const h: React.CSSProperties = { ...t, fontWeight: 700, color: "#111", fontSize: 14 };
  const box: React.CSSProperties = { position: "absolute", top: 4, height: 43, textAlign: "center", fontFamily: FONT, fontSize: 13.5, lineHeight: "17px", paddingTop: 5, boxSizing: "border-box", border: "1px solid #eee", whiteSpace: "nowrap" };
  return (
    <div style={{ position: "absolute", left: 0, top: 0, width: 856, height: 800, background: "#fff", overflow: "hidden" }}>
      <ClusterNetwork />
      <TermBars left={430} top={70} h={130} terms={goTerms} values={goValues} ticks={goTicks} domain={[22, 45.92]} axisW={190} right={14.3} band={16.7} mt={10} mb={14.7} />
      <TermBars left={430} top={193} h={132} terms={keggTerms} values={keggValues} ticks={keggTicks} domain={[1, 17]} axisW={191.7} right={8.7} band={16.8} mt={10.3} mb={15.7} />
      <CellRadar />
      <PpiNetwork />

      <div style={{ ...t, left: 16, top: 4, fontSize: 13.7 }}><b style={{ color: "#111", fontSize: 13.5 }}>Human cluster 1</b> (n = 2,318 ; empirical p-value &lt; 10<sup style={{ fontSize: "70%", lineHeight: 0 }}>-3</sup>)</div>
      <div style={{ ...box, left: 354, width: 143, background: "#e03300", color: "#5a2408" }}>up-regulated in VZ<br /><i>vs</i> CP, ISVZ, OSVZ</div>
      <div style={{ ...box, left: 499, width: 160, background: "#4f9028", color: "#1e3410" }}>down-regulated in CP<br /><i>vs</i> VZ, ISVZ, OSVZ</div>

      <div style={{ ...t, left: 326, top: 55 }}>p53 signaling<br />pathway</div>
      <div style={{ ...t, left: 360, top: 126 }}>ECM-receptor<br />interaction</div>
      <div style={{ ...t, left: 359, top: 237 }}>Cell cycle</div>
      <div style={{ ...t, left: 281, top: 315 }}>DNA replication</div>

      <div style={{ ...h, left: 466, top: 61 }}>GO biological processes</div>
      <div style={{ ...h, left: 466, top: 184 }}>KEGG pathways</div>
      <div style={{ ...t, left: 686, top: 181, fontSize: 12.5 }}>-log<Sub>10</Sub>(p-value)</div>
      <div style={{ ...t, left: 686, top: 307, fontSize: 12.5 }}>-log<Sub>10</Sub>(p-value)</div>

      <div style={{ ...h, left: 16, top: 382 }}>Cell-type enrichment</div>
      <div style={{ ...h, left: 467, top: 382 }}>Protein-Protein-Interactions (<i>P</i> &lt; 0.001)</div>

      <svg style={abs(150, 764, 104, 18)} width={104} height={18}>
        <line x1={4} y1={9} x2={90} y2={9} stroke="#000" strokeWidth={3} />
        <path d="M85 3 L99 9 L85 15 Z" fill="#000" />
      </svg>
      <div style={{ ...t, left: 117, top: 778, fontSize: 12.6 }}>-log<Sub>10</Sub>(BH-adjusted P-value)</div>

      <div style={{ position: "absolute", left: 814, top: 649, width: 16, height: 138, background: "linear-gradient(to bottom,#e76a6c 0%,#eb8f6e 18%,#eca770 30%,#efc468 50%,#f3e86a 75%,#f8f868 85%,#dcfa70 100%)" }} />
      {colorTicks.map((c, i) => (
        <div key={c} style={{ ...t, left: 830, top: 645 + i * 16.1, fontSize: 9.6, lineHeight: "16px" }}>{c}</div>
      ))}
    </div>
  );
}
